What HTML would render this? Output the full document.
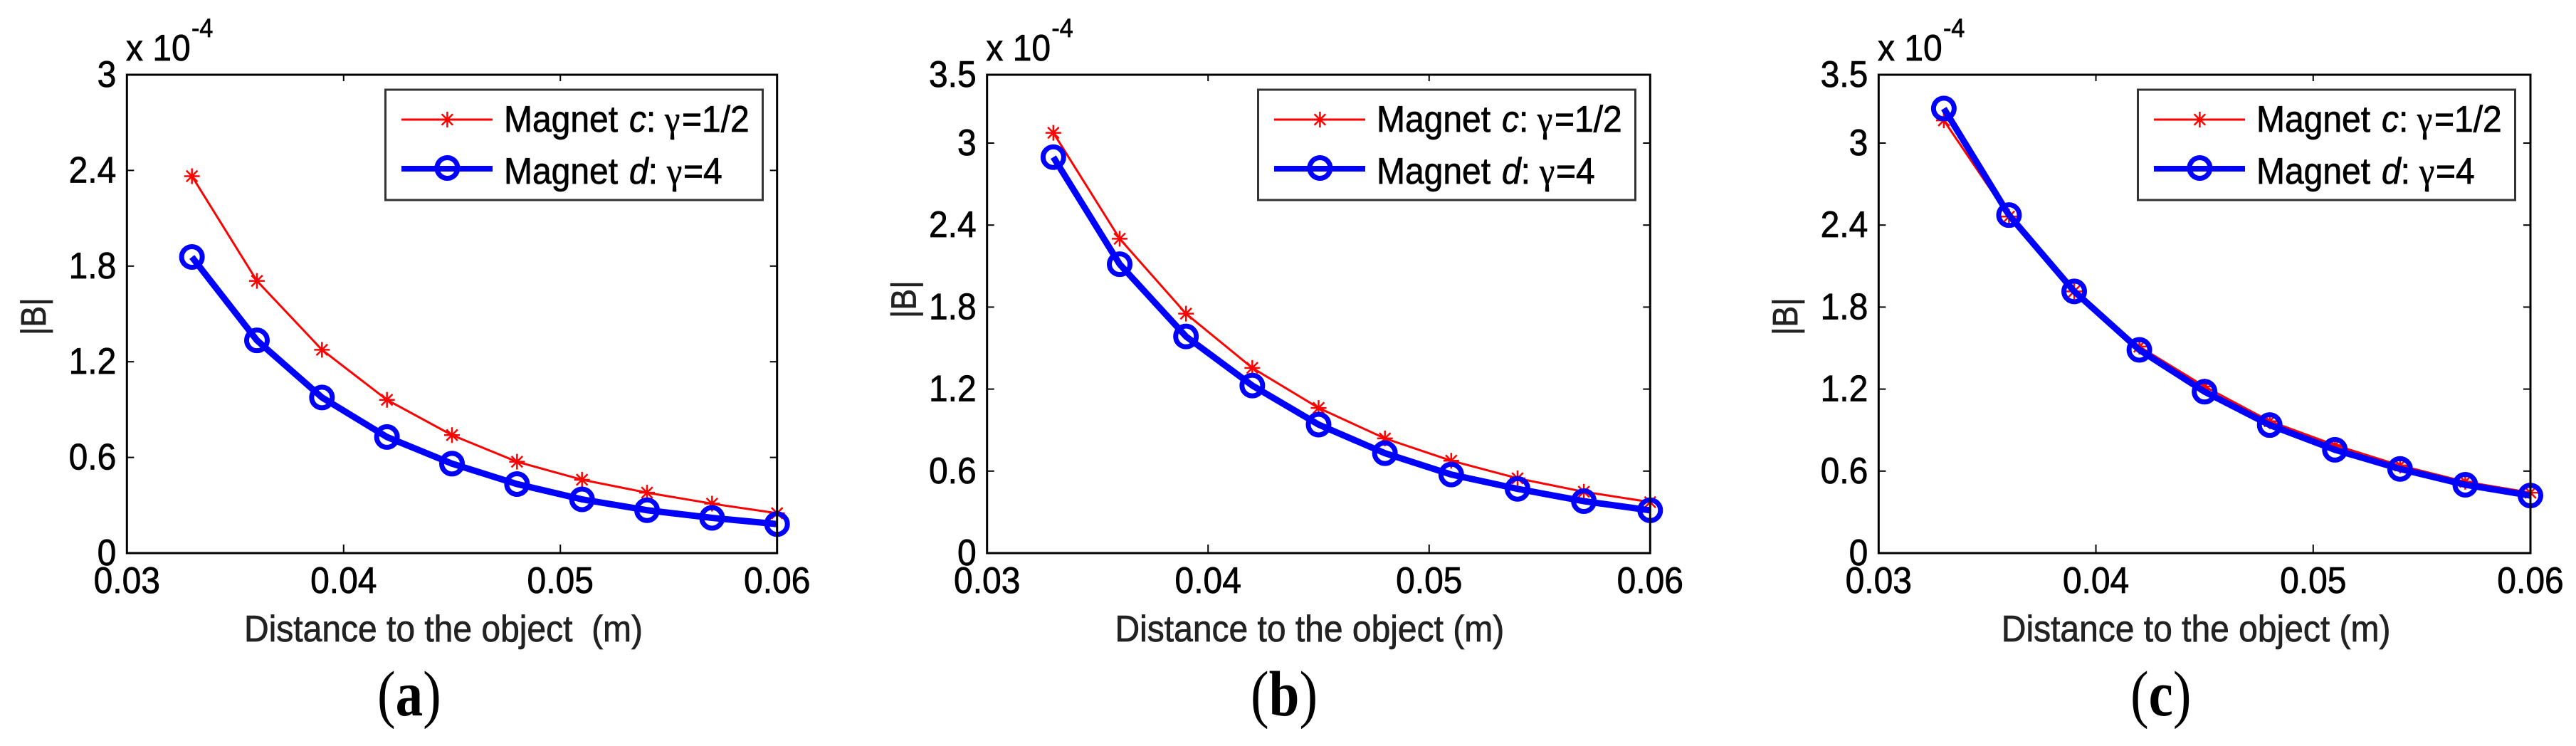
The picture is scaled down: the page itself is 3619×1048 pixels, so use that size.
<!DOCTYPE html>
<html lang="en">
<head>
<meta charset="utf-8">
<title>Magnetic field magnitude versus distance</title>
<style>
  html, body { margin: 0; padding: 0; background: #fff; }
  svg { display: block; }
  text { font-family: "Liberation Sans", sans-serif; fill: #000; stroke: #000; stroke-width: 0.7px; }
  .lbl { font-size: 48px; }
  .ttl { font-size: 48px; fill: #222; stroke: #222; }
  .exp { font-size: 34px; }
  .leg { font-size: 48px; }
  .gam { font-family: "Liberation Serif", serif; }
  .cap { font-family: "Liberation Serif", serif; font-size: 77px; stroke-width: 0; }
  .cap .b { font-weight: bold; }
</style>
</head>
<body>
<svg id="figure" xmlns="http://www.w3.org/2000/svg" width="3619" height="1048" viewBox="0 0 3619 1048">
  <rect x="0" y="0" width="3619" height="1048" fill="#fff"/>

  <g id="panel-a"></g>
  <g id="panel-b"></g>
  <g id="panel-c"></g>

  <!-- Multipliers -->
  <g transform="translate(0,0)">
    <text class="lbl" transform="translate(177,85) scale(1,1.08)" xml:space="preserve">x 10</text>
    <text class="exp" transform="translate(269,52) scale(1,1.08)">-4</text>
  </g>
  <g transform="translate(1208.4,0)">
    <text class="lbl" transform="translate(177,85) scale(1,1.08)" xml:space="preserve">x 10</text>
    <text class="exp" transform="translate(269,52) scale(1,1.08)">-4</text>
  </g>
  <g transform="translate(2461,0)">
    <text class="lbl" transform="translate(177,85) scale(1,1.08)" xml:space="preserve">x 10</text>
    <text class="exp" transform="translate(269,52) scale(1,1.08)">-4</text>
  </g>

  <!-- Axis titles -->
  <text class="ttl" transform="translate(64,471) rotate(-90) scale(1,1.1)" style="font-size:44.5px">|B|</text>
  <text class="ttl" transform="translate(1286.5,447) rotate(-90) scale(1,1.1)" style="font-size:44.5px">|B|</text>
  <text class="ttl" transform="translate(2525,471) rotate(-90) scale(1,1.1)" style="font-size:44.5px">|B|</text>

  <text class="ttl" transform="translate(343,901) scale(1,1.08)" xml:space="preserve">Distance to the object  (m)</text>
  <text class="ttl" transform="translate(1566.5,901) scale(1,1.08)">Distance to the object (m)</text>
  <text class="ttl" transform="translate(2811.8,901) scale(1,1.08)">Distance to the object (m)</text>

  <!-- Legends -->
  <g transform="translate(0,0)">
    <rect x="541.5" y="126" width="530" height="155" fill="#fff" stroke="#333" stroke-width="3"/>
    <line x1="564" y1="168" x2="692" y2="168" stroke="#f00" stroke-width="3"/>
    <path d="M628.4 157V179M617.4 168H639.4M620.6 160.2L636.2 175.8M620.6 175.8L636.2 160.2" stroke="#f00" stroke-width="2.5" fill="none"/>
    <line x1="564" y1="237" x2="692" y2="237" stroke="#00f" stroke-width="8"/>
    <circle cx="628.4" cy="236" r="14.5" fill="none" stroke="#00f" stroke-width="7"/>
    <text class="leg" transform="translate(0,185) scale(1,1.08)"><tspan x="708">Magnet</tspan> <tspan x="884" font-style="italic">c</tspan><tspan>:</tspan> <tspan x="934" class="gam">γ</tspan><tspan x="958">=1/2</tspan></text>
    <text class="leg" transform="translate(0,258) scale(1,1.08)"><tspan x="708">Magnet</tspan> <tspan x="884" font-style="italic">d</tspan><tspan>:</tspan> <tspan x="937" class="gam">γ</tspan><tspan x="960">=4</tspan></text>
  </g>
  <g transform="translate(1226,0)">
    <rect x="541.5" y="126" width="530" height="155" fill="#fff" stroke="#333" stroke-width="3"/>
    <line x1="564" y1="168" x2="692" y2="168" stroke="#f00" stroke-width="3"/>
    <path d="M628.4 157V179M617.4 168H639.4M620.6 160.2L636.2 175.8M620.6 175.8L636.2 160.2" stroke="#f00" stroke-width="2.5" fill="none"/>
    <line x1="564" y1="237" x2="692" y2="237" stroke="#00f" stroke-width="8"/>
    <circle cx="628.4" cy="236" r="14.5" fill="none" stroke="#00f" stroke-width="7"/>
    <text class="leg" transform="translate(0,185) scale(1,1.08)"><tspan x="708">Magnet</tspan> <tspan x="884" font-style="italic">c</tspan><tspan>:</tspan> <tspan x="934" class="gam">γ</tspan><tspan x="958">=1/2</tspan></text>
    <text class="leg" transform="translate(0,258) scale(1,1.08)"><tspan x="708">Magnet</tspan> <tspan x="884" font-style="italic">d</tspan><tspan>:</tspan> <tspan x="937" class="gam">γ</tspan><tspan x="960">=4</tspan></text>
  </g>
  <g transform="translate(2462,0)">
    <rect x="541.5" y="126" width="530" height="155" fill="#fff" stroke="#333" stroke-width="3"/>
    <line x1="564" y1="168" x2="692" y2="168" stroke="#f00" stroke-width="3"/>
    <path d="M628.4 157V179M617.4 168H639.4M620.6 160.2L636.2 175.8M620.6 175.8L636.2 160.2" stroke="#f00" stroke-width="2.5" fill="none"/>
    <line x1="564" y1="237" x2="692" y2="237" stroke="#00f" stroke-width="8"/>
    <circle cx="628.4" cy="236" r="14.5" fill="none" stroke="#00f" stroke-width="7"/>
    <text class="leg" transform="translate(0,185) scale(1,1.08)"><tspan x="708">Magnet</tspan> <tspan x="884" font-style="italic">c</tspan><tspan>:</tspan> <tspan x="934" class="gam">γ</tspan><tspan x="958">=1/2</tspan></text>
    <text class="leg" transform="translate(0,258) scale(1,1.08)"><tspan x="708">Magnet</tspan> <tspan x="884" font-style="italic">d</tspan><tspan>:</tspan> <tspan x="937" class="gam">γ</tspan><tspan x="960">=4</tspan></text>
  </g>

  <!-- Panel captions -->
  <text class="cap" transform="translate(530,1005) scale(1,1.17)">(<tspan class="b">a</tspan>)</text>
  <text class="cap" transform="translate(1757,1005) scale(1,1.17)">(<tspan class="b">b</tspan>)</text>
  <text class="cap" transform="translate(2993,1005) scale(1,1.17)">(<tspan class="b">c</tspan>)</text>
</svg>

<script>
// ---- Chart data (|B| in units of 1e-4, distance in metres) ----
const distances = [0.033, 0.036, 0.039, 0.042, 0.045, 0.048, 0.051, 0.054, 0.057, 0.06];

const xTicks = [0.03, 0.04, 0.05, 0.06];
const xTickLabels = ['0.03', '0.04', '0.05', '0.06'];

const yTicksA = [0, 0.6, 1.2, 1.8, 2.4, 3];
const yTickLabelsA = ['0', '0.6', '1.2', '1.8', '2.4', '3'];
const yTicksBC = [0, 0.6, 1.2, 1.8, 2.4, 3, 3.5];
const yTickLabelsBC = ['0', '0.6', '1.2', '1.8', '2.4', '3', '3.5'];

const magnetCPanelA = [2.364, 1.707, 1.275, 0.961, 0.74, 0.573, 0.46, 0.379, 0.31, 0.25];
const magnetDPanelA = [1.857, 1.334, 0.976, 0.728, 0.561, 0.433, 0.337, 0.269, 0.221, 0.182];

const magnetCPanelB = [3.075, 2.30, 1.752, 1.355, 1.062, 0.839, 0.676, 0.547, 0.449, 0.373];
const magnetDPanelB = [2.897, 2.114, 1.585, 1.226, 0.94, 0.731, 0.575, 0.47, 0.38, 0.313];

const magnetCPanelC = [3.166, 2.462, 1.915, 1.511, 1.219, 0.965, 0.79, 0.641, 0.522, 0.442];
const magnetDPanelC = [3.253, 2.473, 1.915, 1.487, 1.181, 0.937, 0.756, 0.616, 0.50, 0.421];

// ---- Drawing ----
const SVG_NS = 'http://www.w3.org/2000/svg';
const AXIS_TOP = 105;
const AXIS_BOTTOM = 777;
const X_MIN = 0.03;
const X_MAX = 0.06;

function make(parent, tag) {
  const el = document.createElementNS(SVG_NS, tag);
  parent.appendChild(el);
  return el;
}

function drawPanel(panelId, left, right, yMax, yTicks, yLabels, seriesC, seriesD) {
  const root = document.getElementById(panelId);
  const xScale = v => left + (v - X_MIN) / (X_MAX - X_MIN) * (right - left);
  const yScale = v => AXIS_BOTTOM - v / yMax * (AXIS_BOTTOM - AXIS_TOP);

  // Magnet c: thin red line with asterisks
  const redPts = distances.map((d, i) => xScale(d) + ',' + yScale(seriesC[i])).join(' ');
  const redLine = make(root, 'polyline');
  
  
  redLine.setAttribute('points', redPts);
  redLine.setAttribute('fill', 'none');
  redLine.setAttribute('stroke', '#f00');
  redLine.setAttribute('stroke-width', '3');

  distances.forEach((d, i) => {
    const cx = xScale(d);
    const cy = yScale(seriesC[i]);
    const r = 11;
    const q = r * 0.71;
    const star = make(root, 'path');
    
    
    star.setAttribute('d',
      'M' + cx + ' ' + (cy - r) + 'V' + (cy + r) +
      'M' + (cx - r) + ' ' + cy + 'H' + (cx + r) +
      'M' + (cx - q) + ' ' + (cy - q) + 'L' + (cx + q) + ' ' + (cy + q) +
      'M' + (cx - q) + ' ' + (cy + q) + 'L' + (cx + q) + ' ' + (cy - q));
    star.setAttribute('stroke', '#f00');
    star.setAttribute('stroke-width', '2.5');
    star.setAttribute('fill', 'none');
  });

  // Magnet d: thick blue line with circles
  const bluePts = distances.map((d, i) => xScale(d) + ',' + yScale(seriesD[i])).join(' ');
  const blueLine = make(root, 'polyline');
  
  
  blueLine.setAttribute('points', bluePts);
  blueLine.setAttribute('fill', 'none');
  blueLine.setAttribute('stroke', '#00f');
  blueLine.setAttribute('stroke-width', '9');

  distances.forEach((d, i) => {
    const c = make(root, 'circle');
    
    
    c.setAttribute('cx', xScale(d));
    c.setAttribute('cy', yScale(seriesD[i]));
    c.setAttribute('r', '14.5');
    c.setAttribute('fill', 'none');
    c.setAttribute('stroke', '#00f');
    c.setAttribute('stroke-width', '7');
  });

  // Axes box on top of the data
  const frame = make(root, 'rect');
  
  
  frame.setAttribute('x', left);
  frame.setAttribute('y', AXIS_TOP);
  frame.setAttribute('width', right - left);
  frame.setAttribute('height', AXIS_BOTTOM - AXIS_TOP);
  frame.setAttribute('fill', 'none');
  frame.setAttribute('stroke', '#000');
  frame.setAttribute('stroke-width', '3');

  // X ticks and labels
  xTicks.forEach((t, i) => {
    const px = xScale(t);
    if (i > 0 && i < xTicks.length - 1) {
      [[AXIS_BOTTOM, AXIS_BOTTOM - 12], [AXIS_TOP, AXIS_TOP + 9]].forEach(pair => {
        const tick = make(root, 'line');
        
        
        tick.setAttribute('x1', px);
        tick.setAttribute('x2', px);
        tick.setAttribute('y1', pair[0]);
        tick.setAttribute('y2', pair[1]);
        tick.setAttribute('stroke', '#000');
        tick.setAttribute('stroke-width', '2');
      });
    }
    const label = make(root, 'text');
    
    
    label.setAttribute('class', 'lbl');
    label.setAttribute('text-anchor', 'middle');
    label.setAttribute('transform', 'translate(' + px + ',833) scale(1,1.08)');
    label.textContent = xTickLabels[i];
  });

  // Y ticks and labels
  yTicks.forEach((t, i) => {
    const py = yScale(t);
    if (t > 0 && t < yMax) {
      [[left, left + 10], [right, right - 10]].forEach(pair => {
        const tick = make(root, 'line');
        
        
        tick.setAttribute('x1', pair[0]);
        tick.setAttribute('x2', pair[1]);
        tick.setAttribute('y1', py);
        tick.setAttribute('y2', py);
        tick.setAttribute('stroke', '#000');
        tick.setAttribute('stroke-width', '2');
      });
    }
    const label = make(root, 'text');
    
    
    label.setAttribute('class', 'lbl');
    label.setAttribute('text-anchor', 'end');
    label.setAttribute('transform', 'translate(' + (left - 15) + ',' + (py + 17) + ') scale(1,1.08)');
    label.textContent = yLabels[i];
  });
}

drawPanel('panel-a', 178.3, 1091.7, 3, yTicksA, yTickLabelsA, magnetCPanelA, magnetDPanelA);
drawPanel('panel-b', 1386.7, 2318.3, 3.5, yTicksBC, yTickLabelsBC, magnetCPanelB, magnetDPanelB);
drawPanel('panel-c', 2639.3, 3555, 3.5, yTicksBC, yTickLabelsBC, magnetCPanelC, magnetDPanelC);
</script>
</body>
</html>
